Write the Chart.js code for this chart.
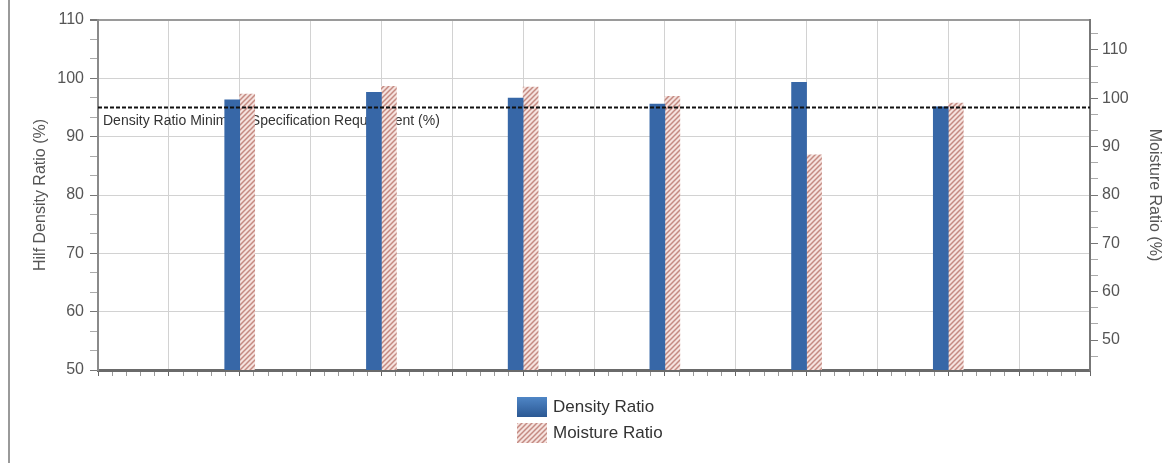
<!DOCTYPE html>
<html>
<head>
<meta charset="utf-8">
<script src="https://cdn.jsdelivr.net/npm/chart.js@4.4.1/dist/chart.umd.min.js"></script>
<style>
  html, body { margin: 0; padding: 0; background: #fff; }
  #wrap { position: relative; width: 1172px; height: 463px; overflow: hidden; }
  #frame { position: absolute; left: 8px; top: 0; bottom: 0; width: 2px; background: #9a9a9a; }
  #chart { position: absolute; left: 0; top: 0; }
  #legend { position: absolute; left: 517px; top: 397px; font: 17px "Liberation Sans", Arial, sans-serif; color: #333; }
  .item { display: flex; align-items: center; height: 20px; margin-bottom: 6px; }
  .item canvas { margin-right: 6px; display: block; }
</style>
</head>
<body>
<div id="wrap">
  <div id="frame"></div>
  <canvas id="chart" width="1172" height="463"></canvas>
  <div id="legend"></div>
</div>
<script>
    // x positions of the six test results on a 0..14 grid
    const sampleX = [2, 4, 6, 8, 10, 12];
    const densityRatio = [96.3, 97.6, 96.6, 95.6, 99.3, 95.1];
    const moistureRatio = [100.9, 102.5, 102.3, 100.4, 88.3, 99.0];
    const specMinimum = 95;
    const specLabel = "Density Ratio Minimum Specification Requirement (%)";
    const leftTicks = [50, 60, 70, 80, 90, 100, 110];
    const rightTicks = [50, 60, 70, 80, 90, 100, 110];
    const xMin = 0, xMax = 14;

    const FONT = '"Liberation Sans", Arial, sans-serif';

    function isMajor(v) {
        return Math.abs(v - Math.round(v)) < 1e-6 && Math.round(v) % 10 === 0;
    }

    // major ticks plus two minor ticks between each, clipped to [lo, hi]
    function withMinors(majors, lo, hi) {
        const out = [];
        const step = (majors[1] - majors[0]) / 3;
        for (let v = majors[0] - 3 * step; v <= majors[majors.length - 1] + 3 * step + 1e-9; v += step) {
            const r = Math.round(v * 1000) / 1000;
            if (r >= lo - 1e-9 && r <= hi + 1e-9) out.push(r);
        }
        return out;
    }

    function hatchPattern() {
        const c = document.createElement("canvas");
        c.width = 5; c.height = 5;
        const g = c.getContext("2d");
        g.fillStyle = "#f5e2de";
        g.fillRect(0, 0, 5, 5);
        g.strokeStyle = "#c48a82";
        g.lineWidth = 1.5;
        g.beginPath();
        g.moveTo(0, 5); g.lineTo(5, 0);
        g.moveTo(-1, 1); g.lineTo(1, -1);
        g.moveTo(4, 6); g.lineTo(6, 4);
        g.stroke();
        return g.createPattern(c, "repeat");
    }

    const hatch = hatchPattern();
    const densityColor = "#3767a7";

    const specLabelPlugin = {
        id: "specLabel",
        beforeDatasetsDraw(chart) {
            const { ctx, chartArea, scales } = chart;
            const y = scales.y.getPixelForValue(specMinimum);
            ctx.save();
            ctx.font = "14px " + FONT;
            ctx.fillStyle = "#333";
            ctx.textBaseline = "middle";
            ctx.fillText(specLabel, chartArea.left + 5, y + 14);
            ctx.restore();
        }
    };

    const chart = new Chart(document.getElementById("chart"), {
        type: "bar",
        data: {
            datasets: [
                {
                    type: "line",
                    label: specLabel,
                    data: [{ x: xMin, y: specMinimum }, { x: xMax, y: specMinimum }],
                    xAxisID: "x",
                    yAxisID: "y",
                    borderColor: "#111",
                    borderWidth: 1.8,
                    borderDash: [4, 2],
                    pointRadius: 0,
                    order: -1
                },
                {
                    label: "Density Ratio",
                    data: sampleX.map((x, i) => ({ x, y: densityRatio[i] })),
                    yAxisID: "y",
                    backgroundColor: densityColor,
                    borderWidth: 0,
                    barThickness: 15
                },
                {
                    label: "Moisture Ratio",
                    data: sampleX.map((x, i) => ({ x, y: moistureRatio[i] })),
                    yAxisID: "y1",
                    backgroundColor: hatch,
                    borderWidth: 0,
                    barThickness: 15
                }
            ]
        },
        options: {
            responsive: false,
            animation: false,
            layout: { padding: { left: 27, right: 4, top: 20, bottom: 83 } },
            plugins: {
                legend: { display: false },
                tooltip: { enabled: false },
                title: { display: false }
            },
            scales: {
                x: {
                    type: "linear",
                    min: xMin,
                    max: xMax,
                    offset: false,
                    afterBuildTicks: s => {
                        const t = [];
                        for (let i = 0; i <= (xMax - xMin) * 5; i++) t.push({ value: xMin + i / 5 });
                        s.ticks = t;
                    },
                    afterFit: s => { s.height = 10; },
                    ticks: { display: false },
                    grid: {
                        offset: false,
                        color: c => (c.tick && Math.abs(c.tick.value - Math.round(c.tick.value)) < 1e-6) ? "#d2d2d2" : "rgba(0,0,0,0)",
                        tickColor: c => (c.tick && Math.abs(c.tick.value - Math.round(c.tick.value)) < 1e-6) ? "#666" : "#999",
                        tickLength: 6
                    },
                    border: { color: "#6a6a6a", width: 3 }
                },
                y: {
                    type: "linear",
                    position: "left",
                    min: 50,
                    max: 110,
                    afterBuildTicks: s => { s.ticks = withMinors(leftTicks, 50, 110).map(v => ({ value: v })); },
                    afterFit: s => { s.width = 71; },
                    ticks: {
                        autoSkip: false,
                        padding: 6,
                        color: "#555",
                        font: { family: FONT, size: 16 },
                        callback: v => isMajor(v) ? String(Math.round(v)) : ""
                    },
                    grid: {
                        color: c => {
                            if (!c.tick) return "rgba(0,0,0,0)";
                            if (Math.abs(c.tick.value - 110) < 1e-6) return "#9a9a9a";
                            return isMajor(c.tick.value) ? "#d2d2d2" : "rgba(0,0,0,0)";
                        },
                        lineWidth: c => (c.tick && Math.abs(c.tick.value - 110) < 1e-6) ? 2 : 1,
                        tickColor: c => (c.tick && isMajor(c.tick.value)) ? "#777" : "#aaa",
                        tickLength: 8
                    },
                    border: { color: "#8a8a8a", width: 2 },
                    title: {
                        display: true,
                        text: "Hilf Density Ratio (%)",
                        color: "#555",
                        font: { family: FONT, size: 16 },
                        padding: { top: 4, bottom: 4 }
                    }
                },
                y1: {
                    type: "linear",
                    position: "right",
                    min: 43.8,
                    max: 116.2,
                    afterBuildTicks: s => { s.ticks = withMinors(rightTicks, 43.8, 116.2).map(v => ({ value: v })); },
                    afterFit: s => { s.width = 78; },
                    ticks: {
                        autoSkip: false,
                        padding: 4,
                        color: "#555",
                        font: { family: FONT, size: 16 },
                        callback: v => isMajor(v) ? String(Math.round(v)) : ""
                    },
                    grid: {
                        drawOnChartArea: false,
                        tickColor: c => (c.tick && isMajor(c.tick.value)) ? "#777" : "#aaa",
                        tickLength: 8
                    },
                    border: { color: "#777", width: 2 },
                    title: {
                        display: true,
                        text: "Moisture Ratio (%)",
                        color: "#555",
                        font: { family: FONT, size: 16 },
                        padding: { top: 4, bottom: 4 }
                    }
                }
            }
        },
        plugins: [specLabelPlugin]
    });

    // vertical legend under the plot
    const legendEl = document.getElementById("legend");
    chart.data.datasets.filter(d => d.type !== "line").forEach(d => {
        const row = document.createElement("div");
        row.className = "item";
        const box = document.createElement("canvas");
        box.width = 30; box.height = 20;
        const g = box.getContext("2d");
        if (d.label === "Density Ratio") {
            const grad = g.createLinearGradient(0, 0, 0, 20);
            grad.addColorStop(0, "#4f86c6");
            grad.addColorStop(1, "#2b5893");
            g.fillStyle = grad;
        } else {
            g.fillStyle = d.backgroundColor;
        }
        g.fillRect(0, 0, 30, 20);
        row.appendChild(box);
        const txt = document.createElement("span");
        txt.textContent = d.label;
        row.appendChild(txt);
        legendEl.appendChild(row);
    });
</script>
</body>
</html>
